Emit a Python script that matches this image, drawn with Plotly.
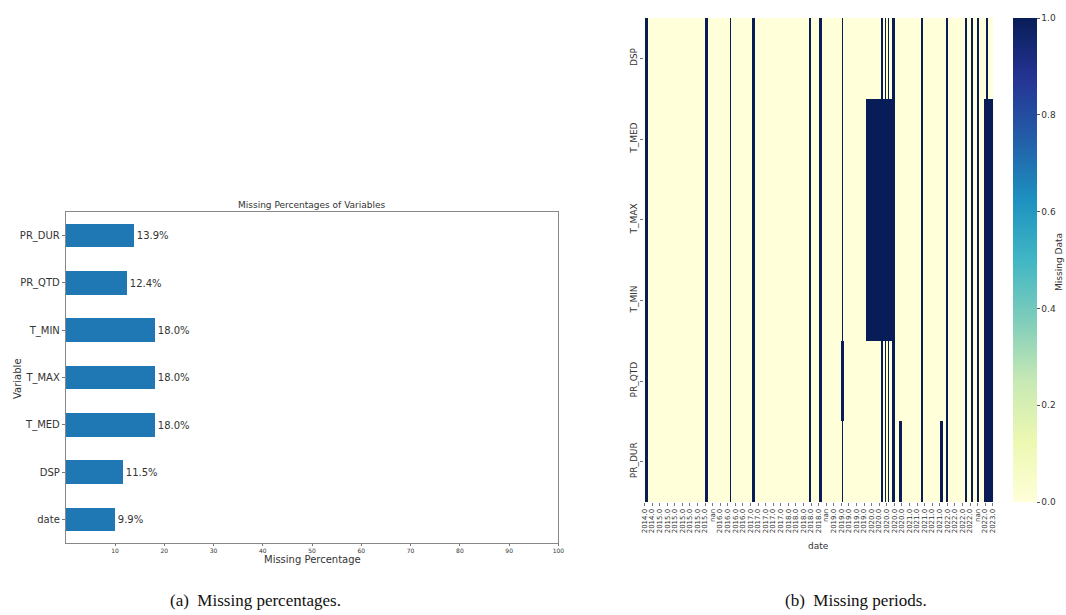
import plotly.graph_objects as go

# ---------------- Left panel data ----------------
bar_vars = ["date", "DSP", "T_MED", "T_MAX", "T_MIN", "PR_QTD", "PR_DUR"]
bar_pct = [9.9, 11.5, 18.0, 18.0, 18.0, 12.4, 13.9]
bar_ticks = [10, 20, 30, 40, 50, 60, 70, 80, 90, 100]

# ---------------- Right panel data ----------------
heat_vars = ["DSP", "T_MED", "T_MAX", "T_MIN", "PR_QTD", "PR_DUR"]
n_records = 461
tick_step = 10
date_labels = ["2014.0", "2014.0", "2015.0", "2015.0", "2015.0", "2015.0", "2015.0", "2015.0", "2015.0",
               "nan", "2016.0", "2016.0", "2016.0", "2016.0", "2017.0", "2017.0", "2017.0", "2017.0",
               "2017.0", "2018.0", "2018.0", "2018.0", "2018.0", "2018.0", "nan", "2019.0", "2019.0",
               "2019.0", "2019.0", "2019.0", "2020.0", "2020.0", "2020.0", "2020.0", "2020.0", "2021.0",
               "2021.0", "2021.0", "2021.0", "2021.0", "2022.0", "2022.0", "2022.0", "2022.0", "nan",
               "2022.0", "2023.0"]
# missing record ranges (inclusive) common to all variables
missing_all = [(1, 4), (81, 84), (113, 114), (143, 145), (218, 219), (231, 234), (261, 262),
               (313, 314), (318, 319), (322, 323), (328, 330), (366, 367), (399, 401),
               (424, 426), (432, 433), (440, 441), (452, 453)]
missing_DSP = []
missing_T_MED = [(293, 326), (449, 460)]
missing_T_MAX = [(293, 326), (449, 460)]
missing_T_MIN = [(293, 326), (449, 460)]
missing_PR_QTD = [(260, 263), (449, 460)]
missing_PR_DUR = [(337, 340), (391, 394), (449, 460)]

per_var = [missing_DSP, missing_T_MED, missing_T_MAX, missing_T_MIN, missing_PR_QTD, missing_PR_DUR]
z = []
for extra in per_var:
    row = [0] * n_records
    for a, b in missing_all + extra:
        for i in range(a, b + 1):
            row[i] = 1
    z.append(row)

W, H = 1066, 615
SX = 1.0056
def px_x(p): return p * SX / W
def px_y(p): return 1 - p / H

ylgnbu = [[0.0, "#ffffd9"], [0.125, "#edf8b1"], [0.25, "#c7e9b4"], [0.375, "#7fcdbb"],
          [0.5, "#41b6c4"], [0.625, "#1d91c0"], [0.75, "#225ea8"], [0.875, "#253494"],
          [1.0, "#081d58"]]

font_fam = "DejaVu Sans"
txt_col = "#333333"

fig = go.Figure()
fig.add_trace(go.Bar(
    x=bar_pct, y=bar_vars, orientation="h", width=0.5,
    marker=dict(color="#1f77b4", line=dict(width=0)),
    text=[f"{v:.1f}%" for v in bar_pct], textposition="outside",
    textfont=dict(size=10, color=txt_col, family=font_fam),
    cliponaxis=False, xaxis="x", yaxis="y", showlegend=False,
))
fig.add_trace(go.Heatmap(
    z=z, x=list(range(n_records)), y=heat_vars, xaxis="x2", yaxis="y2",
    colorscale=ylgnbu, zmin=0, zmax=1, zsmooth=False, xgap=0, ygap=0,
    colorbar=dict(
        x=px_x(1013), xanchor="left", y=px_y(260), yanchor="middle", xpad=0, ypad=0,
        len=484 / H, lenmode="fraction", thickness=24, thicknessmode="pixels",
        outlinewidth=0, tickvals=[0, 0.2, 0.4, 0.6, 0.8, 1.0], ticktext=["0.0", "0.2", "0.4", "0.6", "0.8", "1.0"],
        ticks="outside", ticklen=3, tickcolor="#555",
        tickfont=dict(size=9, color=txt_col, family=font_fam),
    ),
))

fig.update_layout(
    width=W, height=H, margin=dict(l=0, r=0, t=0, b=0),
    paper_bgcolor="white", plot_bgcolor="white",
    font=dict(family=font_fam, color=txt_col),
    bargap=0,
    xaxis=dict(domain=[px_x(63), px_x(557)], range=[0, 100], tickvals=bar_ticks,
               ticks="outside", ticklen=2, tickcolor="#777", tickfont=dict(size=6),
               showgrid=False, zeroline=False, showline=True, mirror=True, linecolor="#888", linewidth=1,
               anchor="y", fixedrange=True),
    yaxis=dict(domain=[px_y(543), px_y(212)], range=[-0.5, 6.5], type="category",
               ticks="outside", ticklen=3, tickcolor="#777", tickfont=dict(size=10),
               showgrid=False, zeroline=False, showline=True, mirror=True, linecolor="#888", linewidth=1,
               anchor="x"),
    xaxis2=dict(domain=[px_x(643), px_x(993)], range=[-0.5, n_records - 0.5],
                tickvals=[i * tick_step for i in range(len(date_labels))], ticktext=date_labels,
                tickangle=-90, ticks="outside", ticklen=3, tickcolor="#777", tickfont=dict(size=7),
                showgrid=False, zeroline=False, showline=False, anchor="y2"),
    yaxis2=dict(domain=[px_y(502), px_y(18)], autorange="reversed", type="category",
                tickangle=-90, ticks="outside", ticklen=3, tickcolor="#777", tickfont=dict(size=9),
                showgrid=False, zeroline=False, showline=False, anchor="x2"),
)

ann = [
    dict(text="Missing Percentages of Variables", x=px_x(310), y=px_y(205), font=dict(size=9)),
    dict(text="Missing Percentage", x=px_x(310), y=px_y(559), font=dict(size=10)),
    dict(text="Variable", x=px_x(14), y=px_y(378), font=dict(size=10), textangle=-90),
    dict(text="date", x=px_x(818), y=px_y(546), font=dict(size=9)),
    dict(text="Missing Data", x=px_x(1059), y=px_y(262), font=dict(size=9), textangle=-90),
    dict(text="(a)  Missing percentages.", x=px_x(253), y=px_y(600),
         font=dict(size=17, family="Liberation Serif", color="#111")),
    dict(text="(b)  Missing periods.", x=px_x(855), y=px_y(600),
         font=dict(size=17, family="Liberation Serif", color="#111")),
]
for a in ann:
    a.update(xref="paper", yref="paper", showarrow=False, xanchor="center", yanchor="middle")
    a.setdefault("font", {})
    a["font"].setdefault("family", font_fam)
    a["font"].setdefault("color", txt_col)
fig.update_layout(annotations=ann)

fig.write_html("out.html", config={"displayModeBar": False},
               post_script="document.body.style.margin='0px'; document.body.style.overflow='hidden';")
